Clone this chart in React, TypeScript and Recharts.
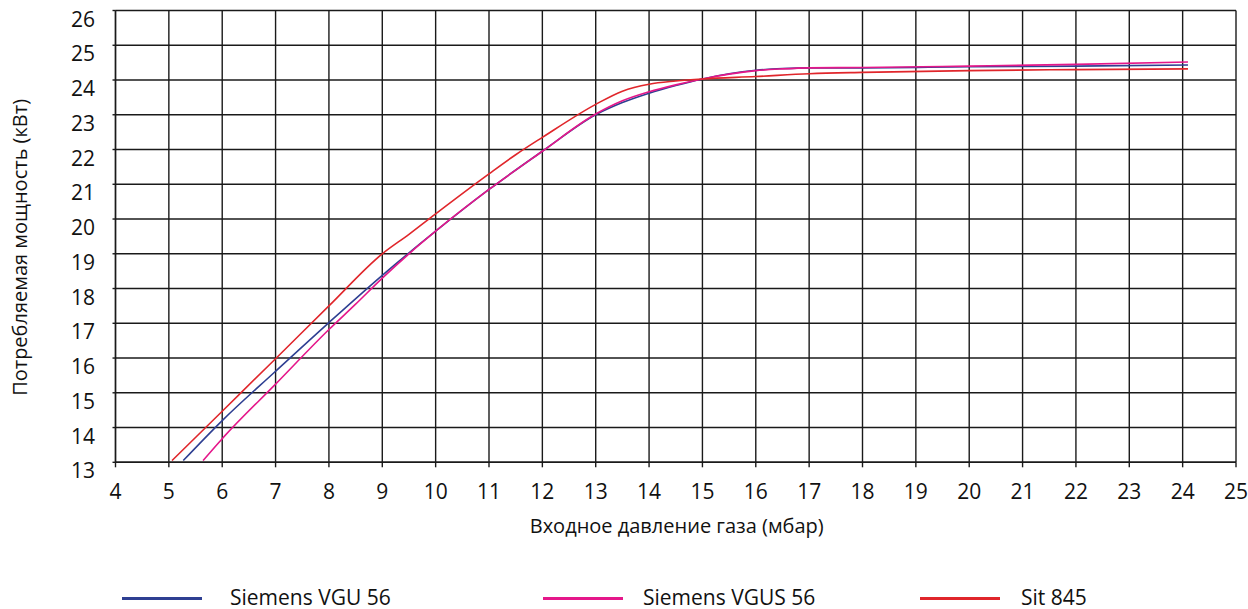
import React from "react";
import { LineChart, Line, XAxis, YAxis, CartesianGrid, Legend } from "recharts";

const xTicks = [4, 5, 6, 7, 8, 9, 10, 11, 12, 13, 14, 15, 16, 17, 18, 19, 20, 21, 22, 23, 24, 25];
const yTicks = [13, 14, 15, 16, 17, 18, 19, 20, 21, 22, 23, 24, 25, 26];

const xLabel = "Входное давление газа (мбар)";
const yLabel = "Потребляемая мощность (кВт)";

const seriesNames = ["Siemens VGU 56", "Siemens VGUS 56", "Sit 845"];
const seriesColors = ["#2E3F92", "#E5178A", "#E0262B"];

// Siemens VGU 56
const vguX = [5.27, 6, 7, 8, 9, 10, 11, 12, 13, 13.5, 14, 14.5, 15, 15.5, 16, 16.5, 17, 18, 20, 22, 24.1];
const vguY = [13.05, 14.2, 15.62, 17.02, 18.38, 19.65, 20.85, 21.95, 23.0, 23.35, 23.62, 23.84, 24.03, 24.18, 24.28, 24.33, 24.35, 24.35, 24.38, 24.4, 24.43];

// Siemens VGUS 56
const vgusX = [5.64, 6, 7, 8, 8.5, 9, 9.5, 10, 11, 12, 13, 13.5, 14, 14.5, 15, 15.5, 16, 16.5, 17, 18, 20, 22, 24.1];
const vgusY = [13.05, 13.68, 15.25, 16.82, 17.55, 18.3, 19.0, 19.65, 20.85, 21.95, 23.02, 23.4, 23.66, 23.86, 24.03, 24.17, 24.27, 24.32, 24.35, 24.36, 24.4, 24.45, 24.52];

// Sit 845
const sitX = [5.06, 6, 7, 8, 9, 9.5, 10, 11, 11.5, 12, 13, 13.5, 14, 14.5, 15, 16, 17, 18, 20, 22, 24.1];
const sitY = [13.05, 14.47, 15.98, 17.5, 19.0, 19.56, 20.15, 21.3, 21.85, 22.35, 23.3, 23.68, 23.88, 23.97, 24.03, 24.1, 24.18, 24.22, 24.27, 24.3, 24.32];

const toPoints = (xs: number[], ys: number[]) => xs.map((x, i) => ({ x, y: ys[i] }));
const seriesData = [toPoints(vguX, vguY), toPoints(vgusX, vgusY), toPoints(sitX, sitY)];

const FONT = "'Open Sans', sans-serif";

const YTick = (props: any) => {
  const { x, y, payload } = props;
  return (
    <text x={x} y={y + 16} textAnchor="end" fontSize={21} fontFamily={FONT} fill="#111">
      {payload.value}
    </text>
  );
};

const XTick = (props: any) => {
  const { x, y, payload } = props;
  return (
    <text x={x} y={y + 32} textAnchor="middle" fontSize={21} fontFamily={FONT} fill="#111">
      {payload.value}
    </text>
  );
};

const legendLineX = [122, 543, 920];
const legendTextX = [230, 643, 1021];

const LegendContent = () => (
  <div style={{ position: "relative", width: 1248, height: 40 }}>
    {seriesNames.map((name, i) => (
      <React.Fragment key={name}>
        <div
          style={{
            position: "absolute",
            left: legendLineX[i],
            top: 28,
            width: 80,
            height: 3,
            background: seriesColors[i],
          }}
        />
        <div
          style={{
            position: "absolute",
            left: legendTextX[i],
            top: 14,
            fontSize: 21,
            lineHeight: "28px",
            fontFamily: FONT,
            color: "#111",
            whiteSpace: "nowrap",
          }}
        >
          {name}
        </div>
      </React.Fragment>
    ))}
  </div>
);

export default function App() {
  return (
    <div style={{ position: "absolute", left: 0, top: 0, background: "#fff" }}>
      <LineChart width={1248} height={609} margin={{ top: 10.5, right: 12, left: 0, bottom: 0 }}>
        <CartesianGrid stroke="#1a1a1a" strokeWidth={1.4} />
        <XAxis
          type="number"
          dataKey="x"
          domain={[4, 25]}
          ticks={xTicks}
          interval={0}
          height={106.7}
          tickSize={5}
          tickMargin={0}
          tick={<XTick />}
          stroke="#1a1a1a"
          strokeWidth={1.4}
          allowDuplicatedCategory={false}
          label={{
            content: (p: any) => {
              const vb = p.viewBox;
              return (
                <text x={vb.x + vb.width / 2 + 1} y={vb.y + 71} textAnchor="middle" fontSize={20} fontFamily={FONT} fill="#111">
                  {xLabel}
                </text>
              );
            },
          }}
        />
        <YAxis
          type="number"
          dataKey="y"
          domain={[13, 26]}
          ticks={yTicks}
          interval={0}
          width={115.5}
          tickSize={3}
          tickMargin={17.5}
          tick={<YTick />}
          stroke="#1a1a1a"
          strokeWidth={1.4}
          label={{
            content: (p: any) => {
              const vb = p.viewBox;
              const cx = 27;
              const cy = vb.y + vb.height / 2 + 11;
              return (
                <text x={cx} y={cy} transform={`rotate(-90, ${cx}, ${cy})`} textAnchor="middle" fontSize={20} fontFamily={FONT} fill="#111">
                  {yLabel}
                </text>
              );
            },
          }}
        />
        <Legend verticalAlign="bottom" content={<LegendContent />} wrapperStyle={{ height: 40 }} />
        {seriesData.map((d, i) => (
          <Line
            key={seriesNames[i]}
            data={d}
            dataKey="y"
            name={seriesNames[i]}
            type="monotone"
            stroke={seriesColors[i]}
            strokeWidth={1.6}
            dot={false}
            activeDot={false}
            isAnimationActive={false}
          />
        ))}
      </LineChart>
    </div>
  );
}
